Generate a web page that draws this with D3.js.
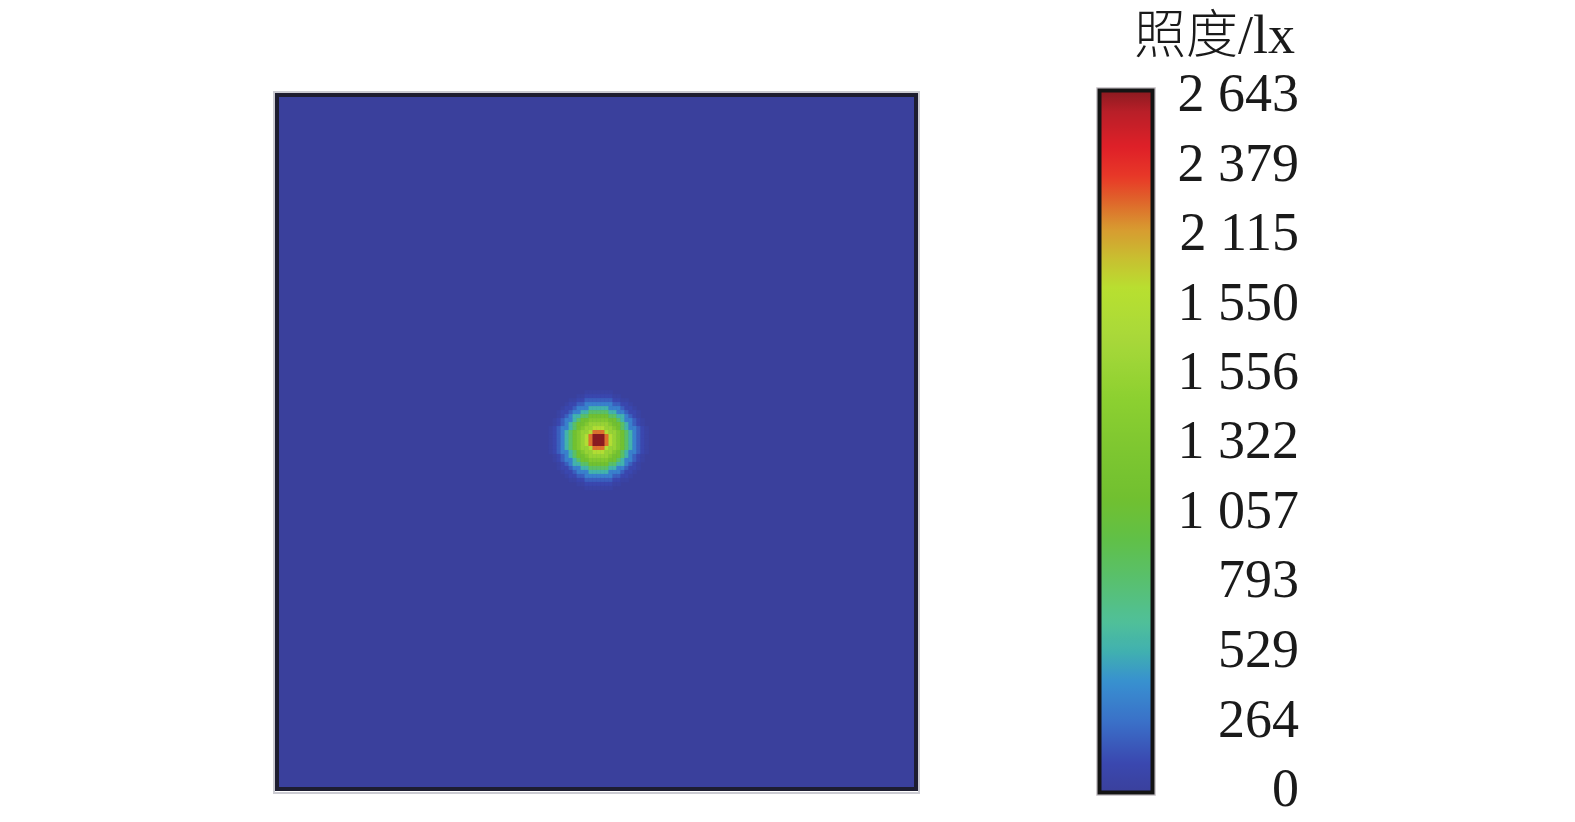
<!DOCTYPE html>
<html>
<head>
<meta charset="utf-8">
<script src="https://cdn.jsdelivr.net/npm/d3@7"></script>
<style>
  html, body { margin: 0; padding: 0; background: #ffffff; }
  svg { display: block; }
</style>
</head>
<body>
<svg id="chart" width="1575" height="822"></svg>
<script>
// ---------------- data ----------------
const valueDomain = [0, 2643];
const tickValues = [0, 264, 529, 793, 1057, 1322, 1586, 1850, 2115, 2379, 2643];
const tickLabels = ["0", "264", "529", "793", "1 057", "1 322", "1 556", "1 550", "2 115", "2 379", "2 643"];
const legendTitle = ["照度", "/lx"];
const gridCols = 160;
const gridRows = 174;
const spotCenter = [80, 86];            // column, row of the lamp spot
// illuminance of each ring around the spot (ring index = distance in cells)
const ringValues = [2643, 2643, 2200, 1820, 1560, 1340, 1120, 830, 550, 340, 200, 100, 40];

// ---------------- style ----------------
const colorStops = [
  [0.000, "#3a409c"], [0.043, "#3a48b0"], [0.100, "#3a70c8"], [0.158, "#3890d0"],
  [0.200, "#40b0b0"], [0.244, "#50c098"], [0.300, "#58c070"], [0.359, "#60c048"],
  [0.416, "#70c030"], [0.500, "#80c830"], [0.560, "#8cd030"], [0.646, "#a8d83a"],
  [0.717, "#b8e030"], [0.760, "#c8c030"], [0.803, "#d89a30"], [0.846, "#e0602a"],
  [0.875, "#e83a28"], [0.918, "#e02028"], [0.970, "#b81f28"], [1.000, "#8a1a20"]
];

const svg = d3.select("#chart");
const color = d3.scaleLinear()
  .domain(colorStops.map(s => valueDomain[0] + s[0] * (valueDomain[1] - valueDomain[0])))
  .range(colorStops.map(s => s[1]))
  .interpolate(d3.interpolateRgb)
  .clamp(true);

// ---------------- heat map ----------------
const x = d3.scaleLinear().domain([0, gridCols]).range([277, 916]);
const y = d3.scaleLinear().domain([0, gridRows]).range([95, 789]);

const cells = [];
const R = ringValues.length;
for (let dy = -R; dy <= R; dy++) {
  for (let dx = -R; dx <= R; dx++) {
    const ring = Math.round(Math.hypot(dx, dy));
    if (ring < R) cells.push({ col: spotCenter[0] + dx, row: spotCenter[1] + dy, value: ringValues[ring] });
  }
}

const heat = svg.append("g");
heat.append("rect")
  .attr("x", x(0)).attr("y", y(0))
  .attr("width", x(gridCols) - x(0)).attr("height", y(gridRows) - y(0))
  .attr("fill", color(0));

heat.selectAll("rect.cell").data(cells).join("rect")
  .attr("class", "cell")
  .attr("x", d => x(d.col))
  .attr("y", d => y(d.row))
  .attr("width", d => x(d.col + 1) - x(d.col) + 0.4)
  .attr("height", d => y(d.row + 1) - y(d.row) + 0.4)
  .attr("fill", d => color(d.value));

// frame with a soft grey halo
svg.append("rect")
  .attr("x", 274).attr("y", 92).attr("width", 645).attr("height", 701)
  .attr("fill", "none").attr("stroke", "#a8a8b4").attr("stroke-width", 2).attr("opacity", 0.6);
svg.append("rect")
  .attr("x", 277).attr("y", 95).attr("width", 639).attr("height", 694)
  .attr("fill", "none").attr("stroke", "#1d1d30").attr("stroke-width", 4);

// ---------------- colour bar ----------------
const cy = d3.scaleLinear().domain(valueDomain).range([787, 92.5]);
const defs = svg.append("defs");
const grad = defs.append("linearGradient").attr("id", "cbar")
  .attr("x1", 0).attr("y1", 1).attr("x2", 0).attr("y2", 0);
d3.range(0, 101).forEach(i => {
  const v = valueDomain[0] + (valueDomain[1] - valueDomain[0]) * i / 100;
  grad.append("stop").attr("offset", i + "%").attr("stop-color", color(v));
});

svg.append("rect")
  .attr("x", 1097).attr("y", 88).attr("width", 58).attr("height", 707)
  .attr("fill", "none").attr("stroke", "#a8a0a8").attr("stroke-width", 1.5).attr("opacity", 0.7);
svg.append("rect")
  .attr("x", 1099.5).attr("y", 90.5).attr("width", 53).attr("height", 702)
  .attr("fill", "url(#cbar)")
  .attr("stroke", "#141414").attr("stroke-width", 4);

const axis = d3.axisLeft(cy)
  .tickValues(tickValues)
  .tickSize(0).tickPadding(0)
  .tickFormat((d, i) => tickLabels[i]);

const ag = svg.append("g").attr("transform", "translate(1299,0)").call(axis);
ag.select(".domain").remove();
ag.selectAll("text")
  .attr("dy", "0.34em")
  .attr("fill", "#1a1a1a")
  .style("font-family", "'Liberation Serif', 'Times New Roman', serif")
  .style("font-size", "54px");

const title = svg.append("text")
  .attr("x", 1295).attr("y", 53)
  .attr("text-anchor", "end")
  .attr("fill", "#1a1a1a")
  .style("font-size", "54px");
title.append("tspan")
  .style("font-family", "'Noto Sans CJK SC', sans-serif")
  .style("font-weight", 300)
  .style("font-size", "52px")
  .text(legendTitle[0]);
title.append("tspan")
  .style("font-family", "'Liberation Serif', 'Times New Roman', serif")
  .text(legendTitle[1]);
</script>
</body>
</html>
